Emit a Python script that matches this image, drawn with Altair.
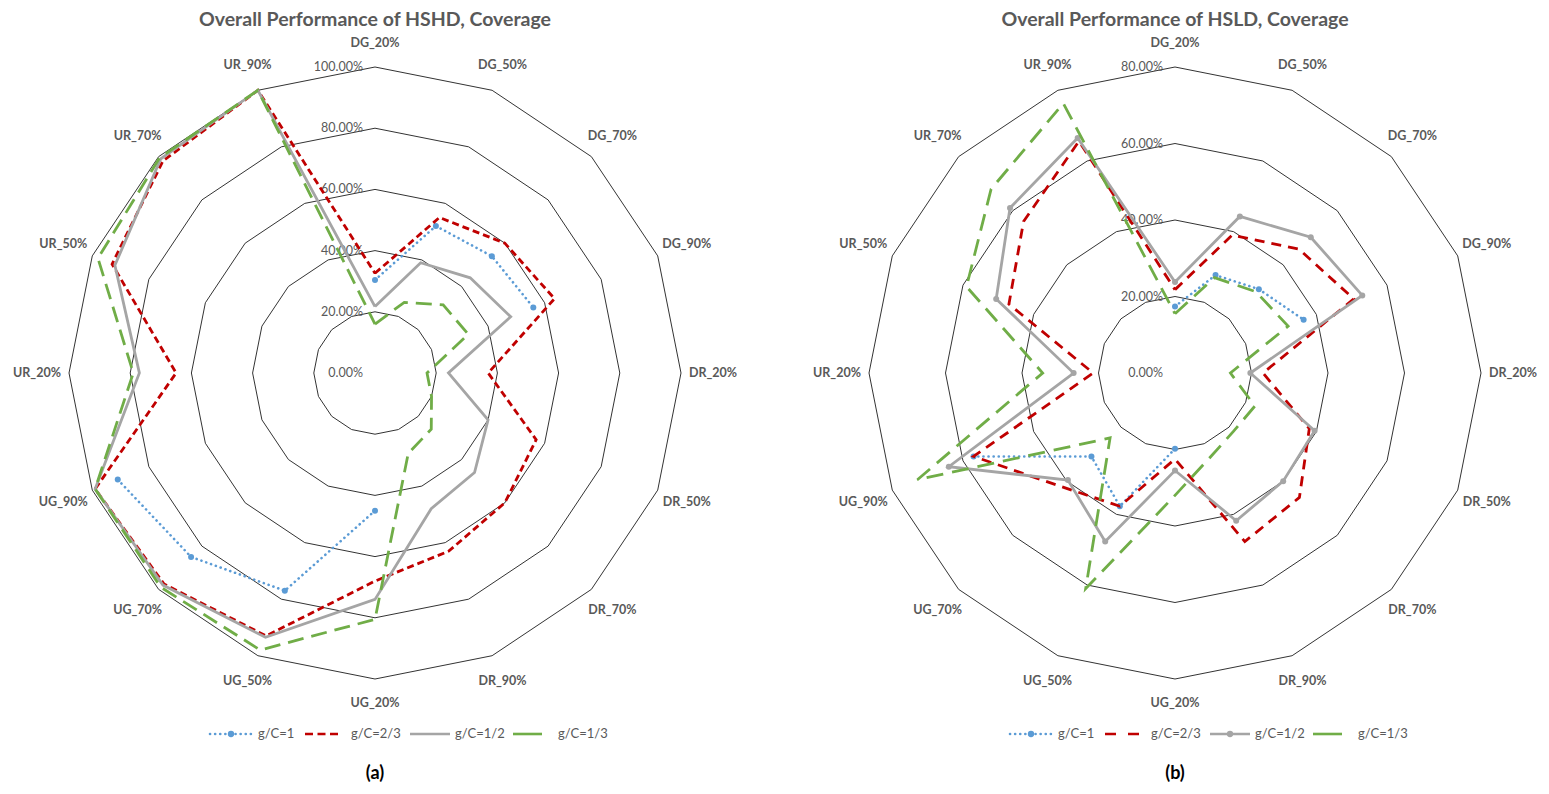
import altair as alt
import pandas as pd

# ---------------- data ----------------
categories = ["DG_20%", "DG_50%", "DG_70%", "DG_90%", "DR_20%", "DR_50%", "DR_70%", "DR_90%",
              "UG_20%", "UG_50%", "UG_70%", "UG_90%", "UR_20%", "UR_50%", "UR_70%", "UR_90%"]
series_names = ["g/C=1", "g/C=2/3", "g/C=1/2", "g/C=1/3"]

# (a) HSHD coverage, %
hshd_gc1 = [30.4, 52, 54, 56, None, None, None, None, 45, 77, 85, 91, None, None, None, None]
hshd_gc23 = [32.6, 55, 60, 63.5, 37, 57, 60, 63, 68, 93, 97.5, 99, 65, 93, 98, 100]
hshd_gc12 = [21.7, 39, 44, 48, 24, 40, 46, 48, 74, 93.5, 98, 99, 77, 92, 99, 100]
hshd_gc13 = [16, 25, 31.5, 33, 17, 20, 26, 28.4, 80.5, 98, 99, 99, 79, 98, 99.5, 100]

# (b) HSLD coverage, %
hsld_gc1 = [17.4, 27.7, 31, 36.4, None, None, None, None, 19.8, 37.7, 30.9, 57, None, None, None, None]
hsld_gc23 = [21.8, 39, 45.8, 50.6, 23, 38, 46, 47.7, 22.5, 37.7, 42, 57, 21.4, 47, 56, 65.6]
hsld_gc12 = [23.8, 44.3, 50.2, 53, 19.7, 39.5, 40, 41.8, 25.5, 47.7, 39.6, 64, 26.5, 50.6, 61, 66.5]
hsld_gc13 = [15.5, 27, 30, 32, 14.5, 22.6, 21.6, 23.9, 32, 61, 24, 72.9, 34.6, 59, 68, 76.3]

rings_a = [20, 40, 60, 80, 100]
rings_b = [20, 40, 60, 80]
ring_labels_a = ["0.00%", "20.00%", "40.00%", "60.00%", "80.00%", "100.00%"]
ring_labels_b = ["0.00%", "20.00%", "40.00%", "60.00%", "80.00%"]
titles = {"a": "Overall Performance of HSHD, Coverage", "b": "Overall Performance of HSLD, Coverage"}

# ---------------- layout ----------------
W, H = 1530, 776
UNIT = 306.0          # px of the outermost ring
CXA, CY = 367.0, 365.0
OFFB_PX = 800.0
OFFB = OFFB_PX / UNIT
xs = alt.Scale(domain=[-CXA / UNIT, (W - CXA) / UNIT], nice=False, zero=False)
ys = alt.Scale(domain=[-(H - CY) / UNIT, CY / UNIT], nice=False, zero=False)
FONT = "Lato"
TXT = "#595959"

BLUE, RED, GRAY, GREEN = "#5B9BD5", "#C00000", "#A5A5A5", "#70AD47"


def polar(ch, rexpr):
    return (ch.transform_calculate(th="datum.idx * PI / 8")
              .transform_calculate(rr=rexpr)
              .transform_calculate(px=f"(datum.panel == 'a' ? 0 : {OFFB}) + datum.rr * sin(datum.th)")
              .transform_calculate(py="datum.rr * cos(datum.th)"))


VAL_R = "datum.value / (datum.panel == 'a' ? 100 : 80)"
X = alt.X("px:Q", scale=xs, axis=None)
Y = alt.Y("py:Q", scale=ys, axis=None)

layers = []

# grid rings
grid_rows = []
for panel, rings in (("a", rings_a), ("b", rings_b)):
    for lv in rings:
        for i in range(17):
            grid_rows.append(dict(panel=panel, ring=f"{panel}{lv}", idx=i, value=lv))
layers.append(polar(alt.Chart(pd.DataFrame(grid_rows)), VAL_R).mark_line(
    color="#333333", strokeWidth=1).encode(x=X, y=Y, order="idx:Q", detail="ring:N"))

# ring labels
rl_rows = []
for panel, labels, rings in (("a", ring_labels_a, [0] + rings_a), ("b", ring_labels_b, [0] + rings_b)):
    for lab, lv in zip(labels, rings):
        rl_rows.append(dict(panel=panel, idx=0, value=lv, label=lab))
layers.append(polar(alt.Chart(pd.DataFrame(rl_rows)), VAL_R).mark_text(
    align="right", baseline="middle", dx=-12, font=FONT, fontSize=12.5, color=TXT).encode(
    x=X, y=Y, text="label:N"))

# category labels
cl_rows = []
for panel in ("a", "b"):
    for i, c in enumerate(categories):
        cl_rows.append(dict(panel=panel, idx=i, label=c))
layers.append(polar(alt.Chart(pd.DataFrame(cl_rows)),
                    f"(330 + 8 * abs(sin(datum.idx * PI / 8))) / {UNIT}").mark_text(
    align="center", baseline="middle", font=FONT, fontSize=12.5, fontWeight="bold", color=TXT).encode(
    x=X, y=Y, text="label:N"))


def series_rows(panel, name, vals):
    rows, seg, prev = [], 0, False
    ext = list(vals) + [vals[0]]
    for i, v in enumerate(ext):
        if i == 16 and vals[15] is None:
            continue
        if v is None:
            if prev:
                seg += 1
            prev = False
            continue
        rows.append(dict(panel=panel, series=name, idx=i, value=v, seg=seg))
        prev = True
    return pd.DataFrame(rows)


def series_layers(panel, name, vals, color, dash, width, cap="butt", pts=False):
    df = series_rows(panel, name, vals)
    kw = dict(color=color, strokeWidth=width, strokeCap=cap)
    if dash:
        kw["strokeDash"] = dash
    out = [polar(alt.Chart(df), VAL_R).mark_line(**kw).encode(x=X, y=Y, order="idx:Q", detail="seg:N")]
    if pts:
        out.append(polar(alt.Chart(df[df.idx < 16]), VAL_R).mark_point(
            filled=True, size=36, color=color, opacity=1).encode(x=X, y=Y))
    return out


# panel a
layers += series_layers("a", series_names[0], hshd_gc1, BLUE, [0.1, 5], 2.6, "round", True)
layers += series_layers("a", series_names[1], hshd_gc23, RED, [7, 4], 2.8)
layers += series_layers("a", series_names[2], hshd_gc12, GRAY, None, 2.8)
layers += series_layers("a", series_names[3], hshd_gc13, GREEN, [16, 8], 2.8)
# panel b
layers += series_layers("b", series_names[0], hsld_gc1, BLUE, [0.1, 5], 2.6, "round", True)
layers += series_layers("b", series_names[1], hsld_gc23, RED, [10, 7], 2.8)
layers += series_layers("b", series_names[2], hsld_gc12, GRAY, None, 2.8, pts=True)
layers += series_layers("b", series_names[3], hsld_gc13, GREEN, [17, 9], 2.8)

# titles, legends, captions (pixel positions in the plot area)
one = pd.DataFrame({"k": [0]})
for k, panel in enumerate(("a", "b")):
    off = OFFB_PX * k
    layers.append(alt.Chart(one).mark_text(font=FONT, fontSize=19.5, fontWeight="bold", color=TXT,
                                           align="center", baseline="middle").encode(
        x=alt.value(CXA + off), y=alt.value(12), text=alt.value(titles[panel])))
    layers.append(alt.Chart(one).mark_text(font=FONT, fontSize=18, fontWeight="bold", color="#000000",
                                           align="center", baseline="middle").encode(
        x=alt.value(CXA + off), y=alt.value(766), text=alt.value(f"({panel})")))
    ly = 726
    leg = [
        (series_names[0], BLUE, [0.1, 5], "round", 202, 244, 250, True),
        (series_names[1], RED, [8, 4.5] if panel == "a" else [11, 12], "butt", 297, 334, 343, False),
        (series_names[2], GRAY, None, "butt", 402, 442, 447, panel == "b"),
        (series_names[3], GREEN, None, "butt", 505, 534, 550, False),
    ]
    for name, color, dash, cap, x1, x2, xt, dot in leg:
        kw = dict(color=color, strokeWidth=2.6, strokeCap=cap)
        if dash:
            kw["strokeDash"] = dash
        layers.append(alt.Chart(one).mark_rule(**kw).encode(
            x=alt.value(x1 + off), x2=alt.value(x2 + off), y=alt.value(ly)))
        if dot:
            layers.append(alt.Chart(one).mark_point(filled=True, size=40, color=color, opacity=1).encode(
                x=alt.value((x1 + x2) / 2 + off), y=alt.value(ly)))
        layers.append(alt.Chart(one).mark_text(font=FONT, fontSize=13, color=TXT, align="left",
                                               baseline="middle").encode(
            x=alt.value(xt + off), y=alt.value(ly), text=alt.value(name)))

chart = alt.layer(*layers).properties(
    width=W, height=H, padding=0, autosize=alt.AutoSizeParams(type="none")
).configure_view(stroke=None)

chart.save("out.html", embed_options={"renderer": "svg", "actions": False})
